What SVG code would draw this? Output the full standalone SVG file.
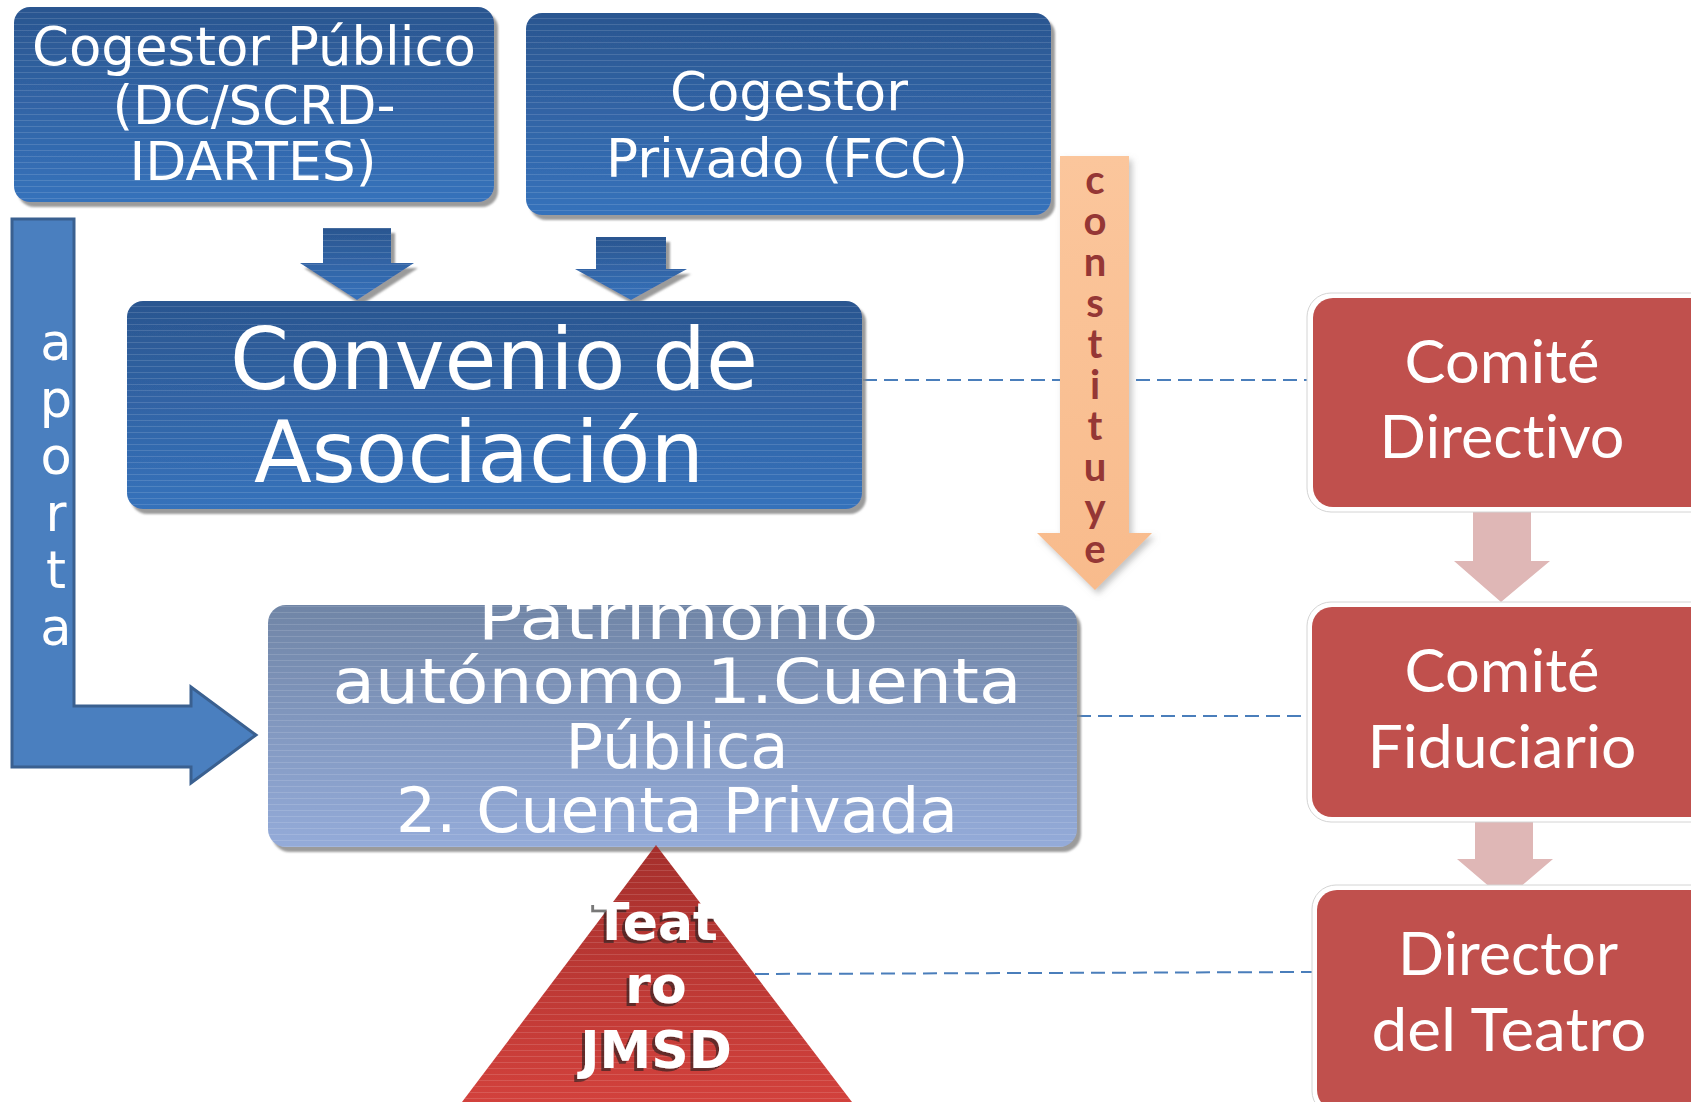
<svg xmlns="http://www.w3.org/2000/svg" width="1691" height="1102" viewBox="0 0 1691 1102">
<style>
.bt{font-family:"DejaVu Sans",sans-serif;fill:#fff;text-anchor:middle}
.rt{font-family:Lato,"Liberation Sans",sans-serif;fill:#fff;text-anchor:middle;font-size:60px;font-variant-ligatures:none}
.ct{font-family:Lato,"Liberation Sans",sans-serif;font-weight:bold;fill:#953735;font-size:40px;writing-mode:vertical-rl;text-orientation:upright;letter-spacing:-7px}
.at{font-family:"DejaVu Sans",sans-serif;fill:#fff;text-anchor:middle;font-size:51px}
.tt{font-family:"DejaVu Sans",sans-serif;font-weight:bold;text-anchor:middle;font-size:52px;fill:#fff}
.dash{stroke:#4a7ebb;stroke-width:2;stroke-dasharray:14 7;fill:none}
.red{fill:#c0504d}
.redo{fill:#fff;stroke:#d4d4d4;stroke-width:1}
.pink{fill:#dfb7b6}
</style>
<defs>
<linearGradient id="gBlue" x1="0" y1="0" x2="0" y2="1">
<stop offset="0" stop-color="#2b5690"/><stop offset="1" stop-color="#3672bb"/>
</linearGradient>
<linearGradient id="gPat" x1="0" y1="0" x2="0" y2="1">
<stop offset="0" stop-color="#7085a6"/><stop offset="1" stop-color="#94abd9"/>
</linearGradient>
<linearGradient id="gTri" x1="0" y1="0" x2="0" y2="1">
<stop offset="0" stop-color="#a52f2c"/><stop offset="1" stop-color="#d2413c"/>
</linearGradient>
<linearGradient id="gPeach" x1="0" y1="0" x2="0" y2="1">
<stop offset="0" stop-color="#fbc69c"/><stop offset="1" stop-color="#f8bb8c"/>
</linearGradient>
<pattern id="stripes" width="8" height="6" patternUnits="userSpaceOnUse">
<rect width="8" height="1" fill="#fff" opacity="0.13"/>
</pattern>
<filter id="sh" x="-10%" y="-10%" width="130%" height="130%">
<feDropShadow dx="4" dy="5" stdDeviation="1" flood-color="#8a8a8a" flood-opacity="0.85"/>
</filter>
<filter id="sh2" x="-20%" y="-10%" width="150%" height="130%">
<feDropShadow dx="3" dy="4" stdDeviation="3" flood-color="#888" flood-opacity="0.5"/>
</filter>
<filter id="tsh" x="-10%" y="-10%" width="130%" height="130%">
<feDropShadow dx="-3" dy="3" stdDeviation="0.6" flood-color="#1a1a1a" flood-opacity="0.6"/>
</filter>
<clipPath id="patClip"><rect x="268" y="605" width="809" height="242" rx="18"/></clipPath>
</defs>
<rect width="1691" height="1102" fill="#fff"/>

<g id="connectors">
<line class="dash" x1="863" y1="380" x2="1312" y2="380"/>
<line class="dash" x1="1077" y1="716" x2="1312" y2="716"/>
<line class="dash" x1="755" y1="974" x2="1313" y2="972"/>
<g id="arrow-pub">
<polygon points="323,228 391,228 391,263 414,263 357,300 300,263 323,263" fill="url(#gBlue)" filter="url(#sh)"/>
<polygon points="323,228 391,228 391,263 414,263 357,300 300,263 323,263" fill="url(#stripes)"/>
</g>
<g id="arrow-priv">
<polygon points="596,237 666,237 666,269 687,269 631,300 575,269 596,269" fill="url(#gBlue)" filter="url(#sh)"/>
<polygon points="596,237 666,237 666,269 687,269 631,300 575,269 596,269" fill="url(#stripes)"/>
</g>
<g id="arrow-aporta">
<polygon points="12,219 74,219 74,706 191,706 191,687 256,735 191,783 191,767 12,767" fill="#4a7fbf" stroke="#3a6090" stroke-width="3" stroke-linejoin="miter"/>
<text class="at"><tspan x="56" y="360">a</tspan><tspan x="56" y="417">p</tspan><tspan x="56" y="474">o</tspan><tspan x="56" y="531">r</tspan><tspan x="56" y="588">t</tspan><tspan x="56" y="645">a</tspan></text>
</g>
<g id="arrow-constituye">
<polygon points="1060,156 1129,156 1129,533 1152,533 1095,590 1037,533 1060,533" fill="url(#gPeach)" filter="url(#sh2)"/>
<text class="ct" x="1095" y="155">constituye</text>
</g>
<polygon class="pink" points="1473,505 1531,505 1531,561 1550,561 1501,602 1454,561 1473,561"/>
<polygon class="pink" points="1475,813 1533,813 1533,859 1553,859 1505,900 1457,859 1475,859"/>
</g>

<g id="cogestor-publico">
<rect x="14" y="7" width="480" height="195" rx="16" fill="url(#gBlue)" filter="url(#sh)"/>
<rect x="14" y="7" width="480" height="195" rx="16" fill="url(#stripes)"/>
<text class="bt" font-size="53" x="254" y="65" textLength="444" lengthAdjust="spacingAndGlyphs">Cogestor Público</text>
<text class="bt" font-size="53" x="254" y="124" textLength="283" lengthAdjust="spacingAndGlyphs">(DC/SCRD-</text>
<text class="bt" font-size="53" x="253" y="180" textLength="247" lengthAdjust="spacingAndGlyphs">IDARTES)</text>
</g>

<g id="cogestor-privado">
<rect x="526" y="13" width="525" height="202" rx="16" fill="url(#gBlue)" filter="url(#sh)"/>
<rect x="526" y="13" width="525" height="202" rx="16" fill="url(#stripes)"/>
<text class="bt" font-size="54" x="789" y="110" textLength="238" lengthAdjust="spacingAndGlyphs">Cogestor</text>
<text class="bt" font-size="54" x="787" y="177" textLength="362" lengthAdjust="spacingAndGlyphs">Privado (FCC)</text>
</g>

<g id="convenio">
<rect x="127" y="301" width="735" height="208" rx="16" fill="url(#gBlue)" filter="url(#sh)"/>
<rect x="127" y="301" width="735" height="208" rx="16" fill="url(#stripes)"/>
<text class="bt" font-size="86" x="494" y="389" textLength="528" lengthAdjust="spacingAndGlyphs">Convenio de</text>
<text class="bt" font-size="86" x="479" y="482" textLength="450" lengthAdjust="spacingAndGlyphs">Asociación</text>
</g>

<g id="patrimonio">
<rect x="268" y="605" width="809" height="242" rx="18" fill="url(#gPat)" filter="url(#sh)"/>
<rect x="268" y="605" width="809" height="242" rx="18" fill="url(#stripes)"/>
<g clip-path="url(#patClip)">
<text class="bt" font-size="63" x="678" y="639" textLength="401" lengthAdjust="spacingAndGlyphs">Patrimonio</text>
<text class="bt" font-size="63" x="677" y="703" textLength="689" lengthAdjust="spacingAndGlyphs">autónomo 1.Cuenta</text>
<text class="bt" font-size="63" x="677" y="768" textLength="223" lengthAdjust="spacingAndGlyphs">Pública</text>
<text class="bt" font-size="63" x="677" y="832" textLength="562" lengthAdjust="spacingAndGlyphs">2. Cuenta Privada</text>
</g>
</g>

<g id="teatro">
<polygon points="656,845 852,1102 462,1102" fill="url(#gTri)"/>
<polygon points="656,845 852,1102 462,1102" fill="url(#stripes)"/>
<g filter="url(#tsh)">
<text class="tt" x="656" y="940">Teat</text>
<text class="tt" x="656" y="1003">ro</text>
<text class="tt" x="656" y="1068">JMSD</text>
</g>
</g>

<g id="comite-directivo">
<rect class="redo" x="1307" y="293" width="410" height="219" rx="24"/>
<rect class="red" x="1313" y="298" width="400" height="209" rx="20"/>
<text class="rt" x="1502" y="383" textLength="195" lengthAdjust="spacingAndGlyphs">Comité</text>
<text class="rt" x="1502" y="458" textLength="245" lengthAdjust="spacingAndGlyphs">Directivo</text>
</g>

<g id="comite-fiduciario">
<rect class="redo" x="1307" y="602" width="410" height="220" rx="24"/>
<rect class="red" x="1312" y="607" width="400" height="210" rx="20"/>
<text class="rt" x="1502" y="692" textLength="195" lengthAdjust="spacingAndGlyphs">Comité</text>
<text class="rt" x="1502" y="768" textLength="269" lengthAdjust="spacingAndGlyphs">Fiduciario</text>
</g>

<g id="director-teatro">
<rect class="redo" x="1312" y="885" width="410" height="230" rx="24"/>
<rect class="red" x="1317" y="890" width="400" height="220" rx="20"/>
<text class="rt" x="1508" y="975" textLength="220" lengthAdjust="spacingAndGlyphs">Director</text>
<text class="rt" x="1509" y="1051" textLength="275" lengthAdjust="spacingAndGlyphs">del Teatro</text>
</g>
</svg>
